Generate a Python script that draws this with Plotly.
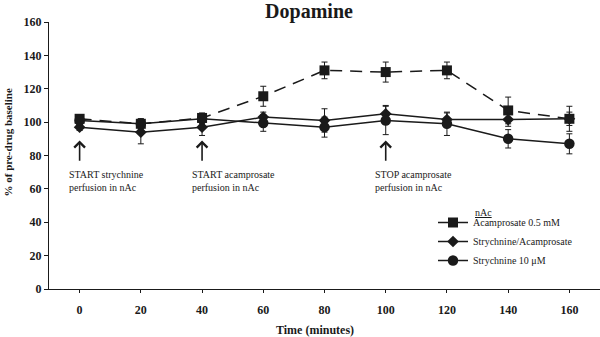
import plotly.graph_objects as go

# Sampling times (minutes)
times = [0, 20, 40, 60, 80, 100, 120, 140, 160]

# Dopamine, % of pre-drug baseline (mean ± SEM)
acamprosate = [102, 99, 102.5, 115.5, 131, 130, 131, 107, 102]
acamprosate_err = [2, 3, 3, 6, 5, 6, 5, 8, 7.5]

strych_acamp = [97, 94, 97, 103, 101, 105, 101.5, 101.5, 102]
strych_acamp_err = [2, 7, 5, 3, 7, 5, 4, 4, 4]

strychnine = [101, 99, 102, 99.5, 97, 101, 99, 90, 87]
strychnine_err = [2, 3, 3, 5, 6, 8.5, 7, 5.5, 6]

x_ticks = [0, 20, 40, 60, 80, 100, 120, 140, 160]
y_ticks = [0, 20, 40, 60, 80, 100, 120, 140, 160]

# Perfusion events: (time, label)
events = [
    (0, "START strychnine<br>perfusion in nAc"),
    (40, "START acamprosate<br>perfusion in nAc"),
    (100, "STOP acamprosate<br>perfusion in nAc"),
]

INK = "#1a1a1a"
SERIF = "Liberation Serif"

# plot area in pixels
L, R, T, B = 49, 0, 22, 48
PW, PH = 600 - L - R, 337 - T - B


def px_x(p):
    return (p - L) / PW


def px_y(p):
    return (337 - B - p) / PH


def err(v):
    return dict(type="data", array=v, visible=True, color=INK, thickness=1, width=3)


fig = go.Figure()
fig.add_trace(go.Scatter(
    x=times, y=acamprosate, error_y=err(acamprosate_err),
    name="Acamprosate 0.5 mM", mode="lines+markers",
    line=dict(color=INK, width=1.5, dash="12px,8px"),
    marker=dict(symbol="square", size=10, color=INK),
))
fig.add_trace(go.Scatter(
    x=times, y=strych_acamp, error_y=err(strych_acamp_err),
    name="Strychnine/Acamprosate", mode="lines+markers",
    line=dict(color=INK, width=1.5),
    marker=dict(symbol="diamond", size=9, color=INK),
))
fig.add_trace(go.Scatter(
    x=times, y=strychnine, error_y=err(strychnine_err),
    name="Strychnine 10 μM", mode="lines+markers",
    line=dict(color=INK, width=1.5),
    marker=dict(symbol="circle", size=10.5, color=INK),
))

annotations = []
for t, label in events:
    annotations.append(dict(
        x=t, y=89, ax=t, ay=76, xref="x", yref="y", axref="x", ayref="y",
        text="", showarrow=True, arrowhead=4, arrowsize=1.3,
        arrowwidth=1.6, arrowcolor=INK,
    ))
    annotations.append(dict(
        x=t - 4, y=px_y(167), xref="x", yref="paper", text=label, showarrow=False,
        xanchor="left", yanchor="top", align="left",
        font=dict(family=SERIF, size=10, color=INK),
    ))

annotations.append(dict(
    x=px_x(473), y=px_y(212), xref="paper", yref="paper",
    text="<u>nAc</u>", showarrow=False, xanchor="left", yanchor="middle",
    font=dict(family=SERIF, size=10, color=INK),
))
annotations.append(dict(
    x=px_x(314.5), y=px_y(330), xref="paper", yref="paper",
    text="Time (minutes)", showarrow=False, xanchor="center", yanchor="middle",
    font=dict(family=SERIF, size=12, color=INK, weight="bold"),
))
annotations.append(dict(
    x=px_x(7), y=px_y(142.5), xref="paper", yref="paper",
    text="% of pre-drug baseline", textangle=-90, showarrow=False,
    xanchor="center", yanchor="middle",
    font=dict(family=SERIF, size=11, color=INK, weight="bold"),
))

fig.update_layout(
    width=600, height=337,
    margin=dict(l=L, r=R, t=T, b=B),
    paper_bgcolor="white", plot_bgcolor="white",
    title=dict(text="Dopamine", x=309 / 600, xanchor="center", y=0.967, yanchor="middle",
               font=dict(family=SERIF, size=20, color=INK, weight="bold")),
    showlegend=True,
    legend=dict(x=px_x(433), y=px_y(208), xanchor="left", yanchor="top",
                bgcolor="rgba(0,0,0,0)", font=dict(family=SERIF, size=10, color=INK),
                itemwidth=30, tracegroupgap=0),
    annotations=annotations,
    font=dict(family=SERIF, color=INK),
)
fig.update_xaxes(
    range=[-10, 170], tickvals=x_ticks, ticks="outside", ticklen=3, tickwidth=1,
    tickcolor=INK, showline=True, linecolor=INK, linewidth=1.2, showgrid=False,
    zeroline=False, tickfont=dict(family=SERIF, size=12, color=INK, weight="bold"),
    ticklabelstandoff=6,
)
fig.update_yaxes(
    range=[0, 160], tickvals=y_ticks, ticks="outside", ticklen=4, tickwidth=1,
    tickcolor=INK, showline=True, linecolor=INK, linewidth=1.2, showgrid=False,
    zeroline=False, tickfont=dict(family=SERIF, size=12, color=INK, weight="bold"),
)

fig.write_html("out.html")
